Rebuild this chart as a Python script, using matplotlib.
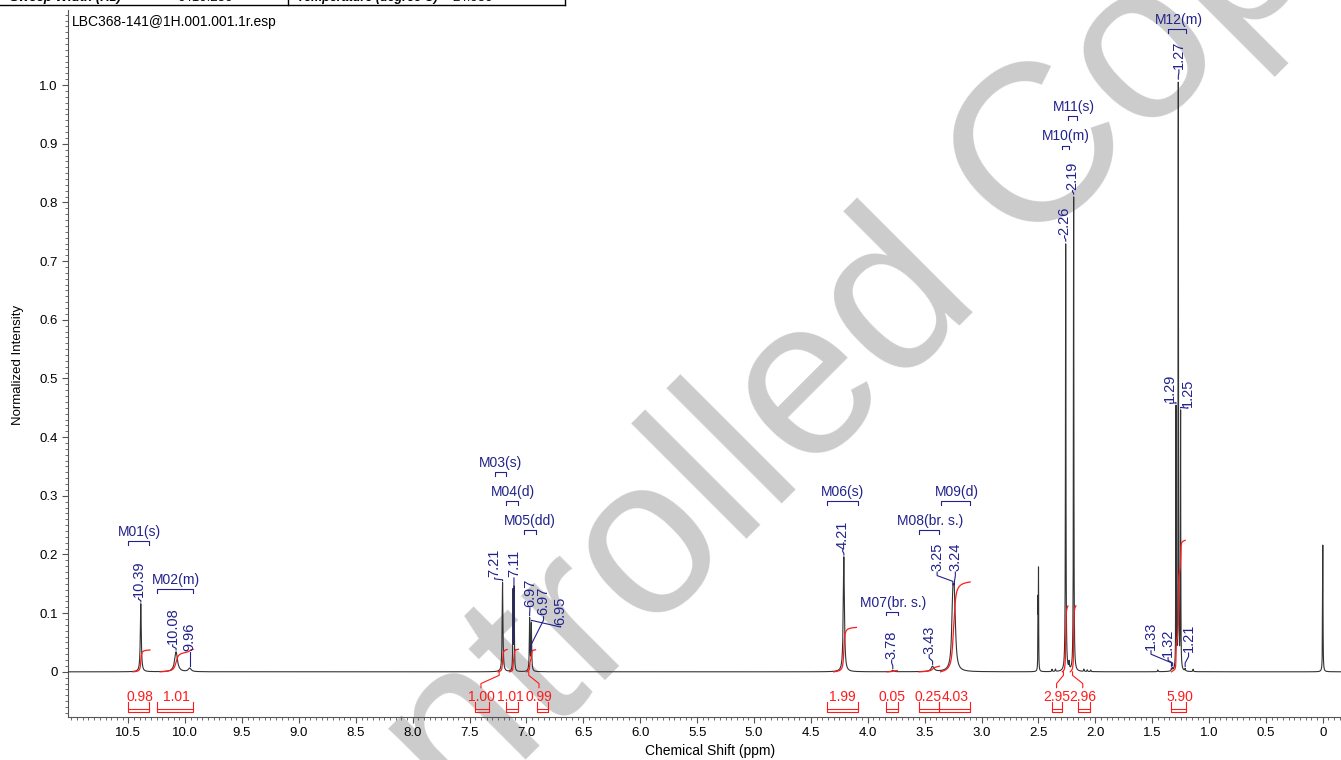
import numpy as np
import matplotlib
matplotlib.use('Agg')
import matplotlib.pyplot as plt
from matplotlib.ticker import MultipleLocator, FuncFormatter

plt.rcParams['font.family'] = ['Liberation Sans', 'DejaVu Sans']

# peaks of the spectrum: position (ppm), height, line width (ppm)
peak_ppm = [10.39, 10.08, 9.96, 7.21, 7.118, 7.108, 6.972, 6.957, 4.21, 3.78, 3.43,
            3.252, 3.238, 2.503, 2.499, 2.26, 2.23, 2.19, 1.33, 1.32, 1.29, 1.27, 1.25, 1.21,
            0.0, 2.38, 2.35, 2.10, 2.07, 2.04, 1.45, 1.14]
peak_h = [0.116, 0.034, 0.006, 0.152, 0.135, 0.14, 0.089, 0.080, 0.196, 0.0025, 0.009,
          0.105, 0.105, 0.11, 0.165, 0.73, 0.012, 0.81, 0.004, 0.004, 0.446, 1.0, 0.438, 0.004,
          0.216, 0.004, 0.004, 0.004, 0.003, 0.003, 0.003, 0.004]
peak_w = [0.010, 0.030, 0.03, 0.008, 0.0045, 0.0045, 0.0065, 0.0065, 0.012, 0.02, 0.03,
          0.022, 0.022, 0.003, 0.003, 0.005, 0.006, 0.0045, 0.006, 0.006, 0.0036, 0.0036, 0.0036, 0.006,
          0.004, 0.006, 0.006, 0.006, 0.006, 0.006, 0.006, 0.006]

# peak labels
lab_text = ['10.39', '10.08', '9.96', '7.21', '7.11', '6.97', '6.97', '6.95', '4.21', '3.78', '3.43',
            '3.25', '3.24', '2.26', '2.19', '1.33', '1.32', '1.29', '1.27', '1.25', '1.21']
lab_peak = [10.39, 10.08, 9.96, 7.21, 7.113, 6.972, 6.967, 6.957, 4.21, 3.78, 3.43,
            3.252, 3.238, 2.26, 2.19, 1.33, 1.32, 1.29, 1.27, 1.25, 1.21]
lab_x = [10.41, 10.11, 9.96, 7.28, 7.11, 6.97, 6.85, 6.70, 4.22, 3.79, 3.46,
         3.39, 3.23, 2.27, 2.20, 1.51, 1.36, 1.344, 1.265, 1.186, 1.18]
lab_y = [0.126, 0.046, 0.034, 0.160, 0.160, 0.109, 0.094, 0.077, 0.208, 0.020, 0.029,
         0.17, 0.17, 0.743, 0.82, 0.036, 0.024, 0.458, 1.026, 0.45, 0.032]

# multiplets
m_names = ['M01(s)', 'M02(m)', 'M03(s)', 'M04(d)', 'M05(dd)', 'M06(s)', 'M07(br. s.)',
           'M08(br. s.)', 'M09(d)', 'M10(m)', 'M11(s)', 'M12(m)']
m_x = [10.40, 10.08, 7.23, 7.12, 6.97, 4.22, 3.78, 3.45, 3.22, 2.26, 2.19, 1.265]
m_y = [0.2385, 0.157, 0.356, 0.307, 0.257, 0.307, 0.118, 0.257, 0.307, 0.913, 0.963, 1.111]
m_hi = [10.50, 10.25, 7.28, 7.18, 7.02, 4.36, 3.84, 3.55, 3.36, 2.29, 2.24, 1.36]
m_lo = [10.32, 9.93, 7.18, 7.07, 6.92, 4.09, 3.73, 3.37, 3.10, 2.23, 2.16, 1.20]

# integrals
int_val = [0.98, 1.01, 1.00, 1.01, 0.99, 1.99, 0.05, 0.25, 4.03, 2.95, 2.96, 5.90]
int_start = [10.46, 10.22, 7.25, 7.15, 7.00, 4.30, 3.83, 3.55, 3.36, 2.29, 2.22, 1.33]
int_end = [10.31, 9.93, 7.17, 7.07, 6.92, 4.10, 3.74, 3.37, 3.10, 2.24, 2.17, 1.21]
int_lx = [10.40, 10.08, 7.40, 7.14, 6.89, 4.22, 3.79, 3.47, 3.23, 2.34, 2.11, 1.26]
int_link = [None, None, 7.24, None, 6.98, None, None, None, None, 2.28, 2.20, None]
int_bhi = [10.50, 10.25, 7.45, 7.18, 6.91, 4.36, 3.84, 3.55, 3.37, 2.38, 2.15, 1.33]
int_blo = [10.32, 9.93, 7.33, 7.07, 6.81, 4.09, 3.73, 3.37, 3.10, 2.29, 2.05, 1.20]


def spec(x):
    y = np.zeros_like(np.asarray(x, dtype=float))
    for c, h, w in zip(peak_ppm, peak_h, peak_w):
        y = y + h / (1 + ((x - c) / (w / 2)) ** 2)
    return y


blue = '#22228c'
red = '#ff1a1a'

fig = plt.figure(figsize=(13.41, 7.6), dpi=100)
ax = fig.add_axes([68 / 1341, 43 / 760, 1 - 68 / 1341, 707 / 760])
ax.set_xlim(11.03, -0.16)
ax.set_ylim(-0.077, 1.128)

# watermark
ax.text(0.618, 0.40, 'Controlled Copy', transform=fig.transFigure, fontsize=162,
        color='#cccccc', rotation=45, rotation_mode='anchor',
        ha='center', va='baseline', zorder=0.5)

x = np.linspace(-0.16, 11.03, 40001)
y = spec(x)
ax.plot(x, y, color='#333333', lw=0.8, zorder=3)

# integral curves
for v, s, e in zip(int_val, int_start, int_end):
    xs = np.linspace(s, e, 800)
    ys = spec(xs)
    cum = np.concatenate([[0], np.cumsum((ys[1:] + ys[:-1]) / 2)])
    cum = cum / cum[-1] * v * 0.038
    ax.plot(xs, cum, color=red, lw=0.9, zorder=4)

# integral labels, brackets and connectors
for v, lx, bh, bl, lk in zip(int_val, int_lx, int_bhi, int_blo, int_link):
    ax.text(lx, -0.0426, '%.2f' % v, color=red, fontsize=10, ha='center', va='center')
    ax.plot([bh, bh, bl, bl], [-0.051, -0.068, -0.068, -0.051], color=red, lw=0.8)
    ax.plot([bh, bl], [-0.063, -0.063], color=red, lw=0.8)
    if lk is not None:
        ax.plot([lk, lk, lx, lx], [0, -0.006, -0.02, -0.027], color=red, lw=0.8)

# peak labels
for t, pk, lx, ly in zip(lab_text, lab_peak, lab_x, lab_y):
    top = spec(np.array([pk]))[0] + 0.003
    gap = max(ly - top, 0.002)
    a = min(0.006, gap / 3)
    ax.plot([pk, pk, lx, lx], [top, top + a, ly - a, ly], color=blue, lw=0.8, zorder=5)
    ax.text(lx, ly + 0.002, t, color=blue, fontsize=10.5, rotation=90,
            ha='center', va='bottom', zorder=5)

# multiplet labels
for n, mx, my, hi, lo in zip(m_names, m_x, m_y, m_hi, m_lo):
    ax.text(mx, my, n, color=blue, fontsize=10, ha='center', va='center', zorder=5)
    by = my - 0.016
    ax.plot([hi, hi, lo, lo], [by - 0.006, by, by, by - 0.006], color=blue, lw=0.8, zorder=5)

# axes styling
for sp in ['top', 'right']:
    ax.spines[sp].set_visible(False)
for sp in ['left', 'bottom']:
    ax.spines[sp].set_color('#555555')
    ax.spines[sp].set_linewidth(0.8)

ax.xaxis.set_minor_locator(MultipleLocator(0.05))
ax.yaxis.set_minor_locator(MultipleLocator(0.01))
fmt = FuncFormatter(lambda v, p: '0' if abs(v) < 1e-9 else '%.1f' % v)
ax.xaxis.set_major_formatter(fmt)
ax.yaxis.set_major_formatter(fmt)
ax.set_xticks([i / 2 for i in range(0, 22)])
ax.set_yticks([i / 10 for i in range(0, 11)])
ax.set_xlim(11.03, -0.16)
ax.set_ylim(-0.077, 1.128)
ax.tick_params(which='major', length=4.5, width=0.8, color='#555555', labelsize=9.5, pad=3)
ax.tick_params(which='minor', length=2.5, width=0.6, color='#555555')

fig.text(18 / 1341, (760 - 365) / 760, 'Normalized Intensity', rotation=90,
         ha='center', va='center', fontsize=9.5)
fig.text(710 / 1341, (760 - 751) / 760, 'Chemical Shift (ppm)', ha='center', va='center',
         fontsize=10)
fig.text(72 / 1341, (760 - 22) / 760, 'LBC368-141@1H.001.001.1r.esp', ha='left', va='center',
         fontsize=10)

# partial parameter table at the top edge
tb = 1 - 1 / 760
fig.text(10 / 1341, tb, 'Sweep Width (Hz)', fontsize=9.5, fontweight='bold', fontstyle='italic',
         va='baseline')
fig.text(177 / 1341, tb, '6410.256', fontsize=9.5, va='baseline')
fig.text(297 / 1341, tb, 'Temperature (degree C)', fontsize=9, fontweight='bold',
         fontstyle='italic', va='baseline')
fig.text(452 / 1341, tb, '24.950', fontsize=9.5, va='baseline')
fig.add_artist(plt.Line2D([0, 565 / 1341], [1 - 5 / 760, 1 - 5 / 760], color='black', lw=1))
fig.add_artist(plt.Line2D([288 / 1341, 288 / 1341], [1 - 5 / 760, 1], color='black', lw=1))
fig.add_artist(plt.Line2D([565 / 1341, 565 / 1341], [1 - 5 / 760, 1], color='black', lw=1))

fig.savefig('out.png', dpi=100)
